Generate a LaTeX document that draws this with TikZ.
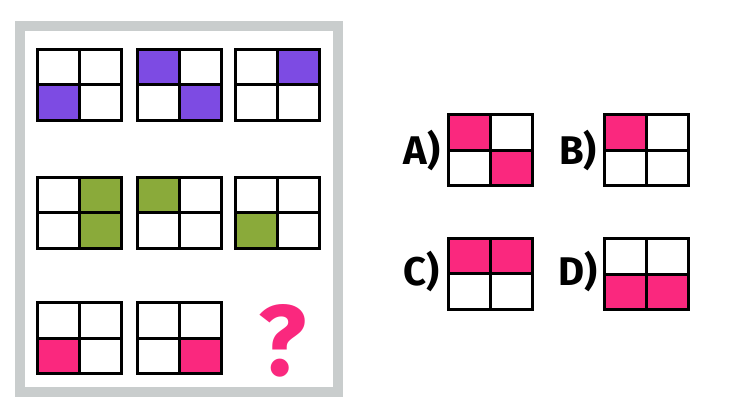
\documentclass[tikz,border=0pt]{standalone}
\usepackage{fontspec}
\setmainfont{Fira Sans}
\definecolor{pur}{HTML}{7D4BE3}
\definecolor{grn}{HTML}{8AAA3A}
\definecolor{pnk}{HTML}{FA287E}
\definecolor{frame}{HTML}{C9CDCD}
\newcommand\cellgrid[6]{%
  \begin{scope}[shift={(#1,#2)}]
    \fill[#3] (0,0) rectangle (42,35.5);
    \fill[#4] (42,0) rectangle (84,35.5);
    \fill[#5] (0,35.5) rectangle (42,71);
    \fill[#6] (42,35.5) rectangle (84,71);
    \draw[gridline] (0,0) rectangle (84,71) (42,0) -- (42,71) (0,35.5) -- (84,35.5);
  \end{scope}}
\begin{document}
\begin{tikzpicture}[x=1pt,y=-1pt,
  gridline/.style={line width=3pt,black},
  lbl/.style={font=\bfseries\fontsize{40}{40}\selectfont,inner sep=0pt}]
\useasboundingbox[fill=white] (0,0) rectangle (734,411);
\draw[frame,line width=10pt] (20,26) rectangle (338,392);
% row 1
\cellgrid{37.7}{49.3}{white}{white}{pur}{white}
\cellgrid{137}{49.3}{pur}{white}{white}{pur}
\cellgrid{235.3}{49.3}{white}{pur}{white}{white}
% row 2
\cellgrid{37.7}{177.3}{white}{grn}{white}{grn}
\cellgrid{137}{177.3}{grn}{white}{white}{white}
\cellgrid{235.3}{177.3}{white}{white}{grn}{white}
% row 3
\cellgrid{37.7}{302.7}{white}{white}{pnk}{white}
\cellgrid{137}{302.7}{white}{white}{white}{pnk}
\node[pnk,font=\bfseries\fontsize{100}{100}\selectfont,inner sep=0pt] (q) at (283,341) {?};
% answers
\cellgrid{448.3}{115}{pnk}{white}{white}{pnk}
\cellgrid{604.3}{115}{pnk}{white}{white}{white}
\cellgrid{448.3}{238.3}{pnk}{pnk}{white}{white}
\cellgrid{604.3}{239}{white}{white}{pnk}{pnk}
\node[lbl] (la) at (422,151) {A)};
\node[lbl] (lb) at (578,151) {B)};
\node[lbl] (lc) at (421,272) {C)};
\node[lbl] (ld) at (578,272) {D)};
\end{tikzpicture}
\end{document}
